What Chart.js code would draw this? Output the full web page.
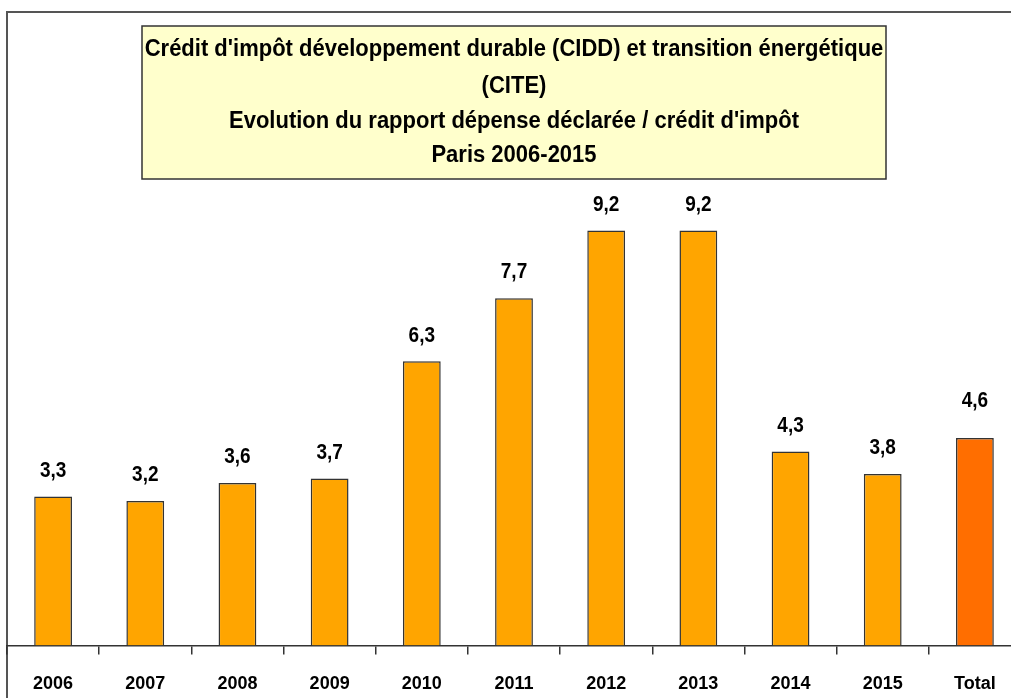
<!DOCTYPE html>
<html>
<head>
<meta charset="utf-8">
<script src="https://cdn.jsdelivr.net/npm/chart.js@4/dist/chart.umd.min.js"></script>
<style>
  html, body { margin: 0; padding: 0; background: #fff; overflow: hidden; }
  #wrap { width: 1011px; height: 698px; overflow: hidden; }
</style>
</head>
<body>
<div id="wrap"><canvas id="chart" width="1025" height="714"></canvas></div>
<script>
// Data
const categories = ['2006', '2007', '2008', '2009', '2010', '2011', '2012', '2013', '2014', '2015', 'Total'];
const ratios = [3.3, 3.2, 3.6, 3.7, 6.3, 7.7, 9.2, 9.2, 4.3, 3.8, 4.6];
const titleLines = [
    "Crédit d'impôt développement durable (CIDD) et transition énergétique",
    "(CITE)",
    "Evolution du rapport dépense déclarée / crédit d'impôt",
    "Paris 2006-2015"
];

const barColors = categories.map(c => c === 'Total' ? '#FF6E00' : '#FFA500');
const fmt = v => v.toFixed(1).replace('.', ',');

// text drawn slightly taller than wide, like the original
function tallText(ctx, txt, x, y, sy) {
    ctx.save();
    ctx.translate(x, y);
    ctx.scale(1, sy);
    ctx.fillText(txt, 0, 0);
    ctx.restore();
}

// Frame, title box and value labels
const decorPlugin = {
    id: 'decor',
    beforeDraw(chart) {
        const ctx = chart.ctx;
        ctx.save();
        // outer frame (left + top)
        ctx.strokeStyle = '#555';
        ctx.lineWidth = 2;
        ctx.beginPath();
        ctx.moveTo(7, 714);
        ctx.lineTo(7, 12);
        ctx.lineTo(1025, 12);
        ctx.stroke();
        ctx.restore();
    },
    afterDraw(chart) {
        const ctx = chart.ctx;
        ctx.save();
        // title box
        ctx.fillStyle = '#FFFFCC';
        ctx.fillRect(142, 26, 744, 153);
        ctx.strokeStyle = '#333';
        ctx.lineWidth = 1.5;
        ctx.strokeRect(142, 26, 744, 153);
        ctx.fillStyle = '#000';
        ctx.font = 'bold 22px "Liberation Sans", Arial, sans-serif';
        ctx.textAlign = 'center';
        ctx.textBaseline = 'middle';
        const ys = [49, 86, 121, 155];
        titleLines.forEach((t, i) => tallText(ctx, t, 514, ys[i], 1.1));

        // value labels above bars
        const meta = chart.getDatasetMeta(0);
        ctx.font = 'bold 19px "Liberation Sans", Arial, sans-serif';
        meta.data.forEach((bar, i) => {
            const off = i === meta.data.length - 1 ? 37 : 26;
            tallText(ctx, fmt(ratios[i]), bar.x, bar.y - off, 1.2);
        });
        ctx.restore();
    }
};

new Chart(document.getElementById('chart'), {
    type: 'bar',
    data: {
        labels: categories,
        datasets: [{
            data: ratios,
            backgroundColor: barColors,
            borderColor: '#333',
            borderWidth: 1.5,
            categoryPercentage: 1,
            barPercentage: 0.41
        }]
    },
    options: {
        responsive: false,
        animation: false,
        layout: { padding: { left: 7, right: 4, top: 14, bottom: 0 } },
        plugins: {
            legend: { display: false },
            tooltip: { enabled: false },
            title: { display: false }
        },
        scales: {
            x: {
                grid: {
                    offset: true,
                    drawOnChartArea: false,
                    drawTicks: true,
                    tickLength: 9,
                    color: '#333',
                    lineWidth: 1.5
                },
                border: { display: true, color: '#333', width: 1.5 },
                ticks: {
                    color: '#000',
                    padding: 19,
                    maxRotation: 0,
                    font: { family: '"Liberation Sans", Arial, sans-serif', size: 18, weight: 'bold' }
                }
            },
            y: {
                display: false,
                min: 0,
                max: 14
            }
        }
    },
    plugins: [decorPlugin]
});
</script>
</body>
</html>
